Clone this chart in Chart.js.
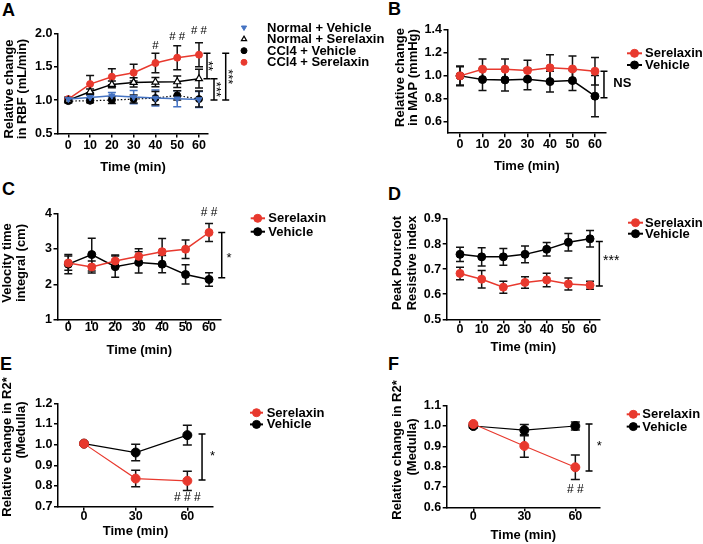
<!DOCTYPE html>
<html><head><meta charset="utf-8">
<script src="https://cdn.jsdelivr.net/npm/chart.js@4.4.1/dist/chart.umd.min.js"></script>
<style>
html,body{margin:0;padding:0;background:#fff;}
#wrap{position:relative;width:703px;height:544px;overflow:hidden;background:#fff;}
#wrap canvas{position:absolute;}
.pl{position:absolute;font-family:"Liberation Sans",Arial,sans-serif;font-weight:bold;font-size:18px;line-height:18px;color:#000;}
</style></head><body>
<div id="wrap">
<div class="pl" style="left:2px;top:1px">A</div>
<div class="pl" style="left:388px;top:0px">B</div>
<div class="pl" style="left:2px;top:180px">C</div>
<div class="pl" style="left:388px;top:185px">D</div>
<div class="pl" style="left:0px;top:355px">E</div>
<div class="pl" style="left:388px;top:355px">F</div>
</div>
<script>
// ---------------- DATA ----------------
const timeLong = [0, 10, 20, 30, 40, 50, 60];
const timeShort = [0, 30, 60];
const xTicksLong = [0, 10, 20, 30, 40, 50, 60];
const xTicksShort = [0, 30, 60];
const namesA = ['Normal + Vehicle', 'Normal + Serelaxin', 'CCl4 + Vehicle', 'CCl4 + Serelaxin'];
const names2 = ['Serelaxin', 'Vehicle'];

// Panel A: relative change in RBF
const normVehA    = [1.015, 1.04, 1.065, 1.045, 1.03, 1.02, 1.01];
const normVehErrA = [0.02, 0.03, 0.05, 0.10, 0.12, 0.12, 0.12];
const normSerA    = [1.0, 1.125, 1.235, 1.265, 1.27, 1.275, 1.32];
const normSerErrA = [0.02, 0.04, 0.05, 0.07, 0.07, 0.085, 0.14];
const cclVehA     = [0.985, 0.99, 1.0, 1.015, 1.03, 1.07, 1.015];
const cclVehErrA  = [0.03, 0.03, 0.05, 0.06, 0.10, 0.07, 0.12];
const cclSerA     = [1.015, 1.24, 1.35, 1.41, 1.555, 1.635, 1.68];
const cclSerErrA  = [0.03, 0.13, 0.12, 0.125, 0.145, 0.18, 0.18];
const yTicksA = [0.5, 1.0, 1.5, 2.0];
const bracketsA = [[1.32, 1.70], [1.0, 1.32], [1.0, 1.70]];
const bracketLabelsA = ['**', '***', '***'];
const hashTimesA = [40, 50, 60];
const hashLevelsA = [1.81, 1.95, 2.035];
const hashLabelsA = ['#', '# #', '# #'];

// Panel B: relative change in MAP
const serB    = [1.0, 1.058, 1.058, 1.047, 1.07, 1.06, 1.04];
const serErrB = [0.087, 0.09, 0.09, 0.09, 0.114, 0.114, 0.12];
const vehB    = [1.0, 0.968, 0.965, 0.971, 0.95, 0.959, 0.823];
const vehErrB = [0.08, 0.096, 0.096, 0.093, 0.09, 0.087, 0.18];
const yTicksB = [0.6, 0.8, 1.0, 1.2, 1.4];
const bracketsB = [[0.81, 1.04]];
const bracketLabelsB = ['NS'];

// Panel C: velocity time integral
const serC    = [2.6, 2.49, 2.66, 2.79, 2.92, 2.99, 3.46];
const serErrC = [0.2, 0.17, 0.17, 0.21, 0.37, 0.26, 0.25];
const vehC    = [2.57, 2.84, 2.5, 2.62, 2.57, 2.28, 2.14];
const vehErrC = [0.27, 0.46, 0.3, 0.3, 0.24, 0.27, 0.19];
const yTicksC = [1, 2, 3, 4];
const bracketsC = [[2.19, 3.46]];
const bracketLabelsC = ['*'];
const hashTimesC = [60];
const hashLevelsC = [4.03];
const hashLabelsC = ['# #'];

// Panel D: peak Pourcelot resistive index
const serD    = [0.683, 0.66, 0.628, 0.647, 0.657, 0.641, 0.636];
const serErrD = [0.025, 0.035, 0.024, 0.023, 0.027, 0.024, 0.016];
const vehD    = [0.759, 0.749, 0.749, 0.759, 0.779, 0.807, 0.821];
const vehErrD = [0.028, 0.036, 0.033, 0.033, 0.027, 0.035, 0.033];
const yTicksD = [0.5, 0.6, 0.7, 0.8, 0.9];
const bracketsD = [[0.633, 0.81]];
const bracketLabelsD = ['***'];

// Panel E: relative change in R2* (medulla)
const serE    = [1.005, 0.836, 0.825];
const serErrE = [0, 0.04, 0.047];
const vehE    = [1.005, 0.962, 1.046];
const vehErrE = [0, 0.04, 0.048];
const yTicksE = [0.7, 0.8, 0.9, 1.0, 1.1, 1.2];
const bracketsE = [[0.829, 1.052]];
const bracketLabelsE = ['*'];
const hashTimesE = [60];
const hashLevelsE = [0.742];
const hashLabelsE = ['# # #'];

// Panel F: relative change in R2* (medulla)
const serF    = [1.01, 0.902, 0.797];
const serErrF = [0.005, 0.056, 0.06];
const vehF    = [1.0, 0.98, 1.0];
const vehErrF = [0.01, 0.028, 0.02];
const yTicksF = [0.6, 0.7, 0.8, 0.9, 1.0, 1.1];
const bracketsF = [[0.779, 1.01]];
const bracketLabelsF = ['*'];
const hashTimesF = [60];
const hashLevelsF = [0.685];
const hashLabelsF = ['# #'];

// ---------------- STYLE / HELPERS ----------------
const FONT = '"Liberation Sans", Arial, Helvetica, sans-serif';
const RED = '#e8392e';
const BLUE = '#4573c2';
const wrap = document.getElementById('wrap');
Chart.defaults.font.family = FONT;

function series(label, times, vals, errs, st) {
  return Object.assign({
    label: label,
    data: times.map((t, i) => ({x: t, y: vals[i]})),
    errors: errs,
    tension: 0, fill: false, clip: false, borderWidth: 1.5,
    pointRadius: 4, pointHoverRadius: 4, pointBorderWidth: 1,
    pointStyle: 'circle', pointRotation: 0,
    errColor: '#111'
  }, st);
}
const redSt = {borderColor: RED, backgroundColor: RED, pointBackgroundColor: RED, pointBorderColor: RED};
const blkSt = {borderColor: '#000', backgroundColor: '#000', pointBackgroundColor: '#000', pointBorderColor: '#000'};

function drawMarker(ctx, opts, x, y) {
  if (Chart.helpers && Chart.helpers.drawPoint) {
    Chart.helpers.drawPoint(ctx, opts, x, y);
    return;
  }
  ctx.beginPath();
  ctx.arc(x, y, opts.radius, 0, Math.PI * 2);
  ctx.fill(); ctx.stroke();
}

function extrasPlugin(p) {
  const bx = p.box[0], by = p.box[1];
  return {
    id: 'extras' + p.id,
    beforeDatasetsDraw(chart) {
      const ctx = chart.ctx, xs = chart.scales.x, ys = chart.scales.y;
      const cap = p.cap;
      ctx.save();
      ctx.setLineDash([]);
      ctx.lineWidth = 1.5;
      chart.data.datasets.forEach(d => {
        ctx.strokeStyle = d.errColor;
        d.data.forEach((pt, i) => {
          const e = d.errors[i];
          if (!e) return;
          const x = xs.getPixelForValue(pt.x);
          const y1 = ys.getPixelForValue(pt.y + e), y2 = ys.getPixelForValue(pt.y - e);
          ctx.beginPath();
          ctx.moveTo(x, y1); ctx.lineTo(x, y2);
          ctx.moveTo(x - cap, y1); ctx.lineTo(x + cap, y1);
          ctx.moveTo(x - cap, y2); ctx.lineTo(x + cap, y2);
          ctx.stroke();
        });
      });
      ctx.restore();
    },
    afterDraw(chart) {
      const ctx = chart.ctx, xs = chart.scales.x, ys = chart.scales.y;
      ctx.save();
      ctx.setLineDash([]);
      // y-axis title (two lines, rotated)
      ctx.fillStyle = '#000';
      ctx.font = 'bold 13px ' + FONT;
      ctx.textAlign = 'center';
      ctx.textBaseline = 'middle';
      p.yTitle.forEach((t, i) => {
        ctx.save();
        ctx.translate(p.yTitleX[i] - bx, p.yTitleY[i] - by);
        ctx.rotate(-Math.PI / 2);
        ctx.fillText(t, 0, 0);
        ctx.restore();
      });
      // significance brackets
      const ref = xs.getPixelForValue(p.bracketRef);
      p.brackets.forEach((b, i) => {
        const x = ref + p.bracketDx[i];
        const y1 = ys.getPixelForValue(b[1]), y2 = ys.getPixelForValue(b[0]);
        ctx.strokeStyle = '#000'; ctx.lineWidth = 1.5;
        ctx.beginPath();
        ctx.moveTo(x, y1); ctx.lineTo(x, y2);
        ctx.moveTo(x - 3.5, y1); ctx.lineTo(x + 3.5, y1);
        ctx.moveTo(x - 3.5, y2); ctx.lineTo(x + 3.5, y2);
        ctx.stroke();
        const ym = (y1 + y2) / 2;
        ctx.fillStyle = '#000';
        ctx.font = p.bracketFont[i];
        ctx.textBaseline = 'middle';
        if (p.bracketRot) {
          ctx.save();
          ctx.translate(x + p.bracketTdx[i], ym);
          ctx.rotate(Math.PI / 2);
          ctx.textAlign = 'center';
          ctx.fillText(p.bracketLabels[i], 0, 0);
          ctx.restore();
        } else {
          ctx.textAlign = 'left';
          ctx.fillText(p.bracketLabels[i], x + p.bracketTdx[i], ym + p.bracketTdy[i]);
        }
      });
      // hash marks
      ctx.font = p.hashFont;
      ctx.textAlign = 'center';
      ctx.textBaseline = 'middle';
      p.hashTimes.forEach((t, i) => {
        ctx.fillText(p.hashLabels[i], xs.getPixelForValue(t), ys.getPixelForValue(p.hashLevels[i]));
      });
      // legend
      const L = p.legend;
      chart.data.datasets.forEach((d, i) => {
        const y = L.y0 + i * L.dy - by;
        if (L.line) {
          ctx.strokeStyle = d.borderColor; ctx.lineWidth = 2;
          ctx.beginPath(); ctx.moveTo(L.x0 - bx, y); ctx.lineTo(L.x1 - bx, y); ctx.stroke();
        }
        ctx.fillStyle = d.pointBackgroundColor;
        ctx.strokeStyle = d.pointBorderColor;
        ctx.lineWidth = d.pointBorderWidth;
        drawMarker(ctx, {pointStyle: d.pointStyle, rotation: d.pointRotation, radius: L.r, borderWidth: d.pointBorderWidth}, L.mx - bx, y);
        ctx.fillStyle = '#000';
        ctx.font = 'bold 13px ' + FONT;
        ctx.textAlign = 'left';
        ctx.textBaseline = 'middle';
        ctx.fillText(d.label, L.tx - bx, y + 0.5);
      });
      ctx.restore();
    }
  };
}

function mkPanel(p) {
  const [bx, by, bw, bh] = p.box;
  const [pl, pt, pr, pb] = p.plot;
  const lh = 13.65;
  const yw = pl - bx;
  const xh = p.xTitleY + lh / 2 - pb;
  const cv = document.createElement('canvas');
  cv.width = bw; cv.height = bh;
  cv.style.left = bx + 'px'; cv.style.top = by + 'px';
  cv.style.width = bw + 'px'; cv.style.height = bh + 'px';
  wrap.appendChild(cv);
  const tickFont = {family: FONT, size: 12.5, weight: 'bold', lineHeight: 1.2};
  const grid = {display: true, drawOnChartArea: false, drawTicks: true, tickLength: 4, color: '#000', lineWidth: 1.5};
  const border = {display: true, color: '#000', width: 1.5};
  new Chart(cv, {
    type: 'line',
    data: {datasets: p.datasets},
    options: {
      responsive: false, animation: false, devicePixelRatio: 1,
      events: [],
      layout: {padding: {left: 0, top: pt - by, right: bx + bw - pr, bottom: by + bh - pb - xh}},
      plugins: {legend: {display: false}, tooltip: {enabled: false}, title: {display: false}},
      scales: {
        x: {
          type: 'linear', min: p.xMin, max: p.xMax,
          afterBuildTicks: s => { s.ticks = p.xTicks.map(v => ({value: v})); },
          afterFit: s => { s.height = xh; },
          grid: grid, border: border,
          ticks: {font: tickFont, color: '#000', padding: p.xGap - 4 - 7.5, autoSkip: false, maxRotation: 0, minRotation: 0,
                  callback: v => String(v)},
          title: {display: true, text: 'Time (min)', color: '#000', padding: 0,
                  font: {family: FONT, size: 13, weight: 'bold', lineHeight: lh / 13}}
        },
        y: {
          type: 'linear', min: p.yMin, max: p.yMax,
          afterBuildTicks: s => { s.ticks = p.yTicks.map(v => ({value: v})); },
          afterFit: s => { s.width = yw; },
          grid: grid, border: border,
          ticks: {font: tickFont, color: '#000', padding: 1.5, autoSkip: false,
                  callback: v => Number(v).toFixed(p.yDec)},
          title: {display: false}
        }
      }
    },
    plugins: [extrasPlugin(p)]
  });
}

// ---------------- PANELS ----------------
mkPanel({
  id: 'A', box: [0, 0, 390, 180], plot: [58, 33.3, 208, 133.5],
  xMin: -4.73, xMax: 64.13, xTicks: xTicksLong, xGap: 11.6, xTitleY: 167,
  yMin: 0.5, yMax: 2.0, yTicks: yTicksA, yDec: 1,
  yTitle: ['Relative change', 'in RBF (mL/min)'], yTitleX: [9.5, 22.5], yTitleY: [89, 89],
  cap: 4,
  datasets: [
    series(namesA[0], timeLong, normVehA, normVehErrA, {borderColor: BLUE, backgroundColor: BLUE, pointBackgroundColor: BLUE, pointBorderColor: BLUE, pointStyle: 'triangle', pointRotation: 180, pointRadius: 3.5, errColor: BLUE}),
    series(namesA[1], timeLong, normSerA, normSerErrA, {borderColor: '#000', backgroundColor: '#fff', pointBackgroundColor: '#fff', pointBorderColor: '#000', pointStyle: 'triangle', pointRadius: 4, pointBorderWidth: 1.2}),
    series(namesA[2], timeLong, cclVehA, cclVehErrA, Object.assign({}, blkSt, {pointRadius: 3.5, borderDash: [1.5, 2], borderWidth: 1.2})),
    series(namesA[3], timeLong, cclSerA, cclSerErrA, Object.assign({}, redSt, {pointRadius: 3.5}))
  ],
  legend: {line: false, mx: 244, tx: 267, y0: 27.5, dy: 11.6, r: 3},
  brackets: bracketsA, bracketLabels: bracketLabelsA, bracketRef: 60, bracketDx: [8, 15, 26.7],
  bracketRot: true, bracketTdx: [1, 1.5, 2], bracketTdy: [0, 0, 0],
  bracketFont: ['13px ' + FONT, '13px ' + FONT, '13px ' + FONT],
  hashTimes: hashTimesA, hashLevels: hashLevelsA, hashLabels: hashLabelsA, hashFont: '11.5px ' + FONT
});

mkPanel({
  id: 'B', box: [390, 0, 313, 180], plot: [447.5, 30, 606, 133.2],
  xMin: -5.56, xMax: 64.9, xTicks: xTicksLong, xGap: 11.6, xTitleY: 166.7,
  yMin: 0.5, yMax: 1.4, yTicks: yTicksB, yDec: 1,
  yTitle: ['Relative change', 'in MAP (mmHg)'], yTitleX: [400, 413.5], yTitleY: [77.5, 77.5],
  cap: 4,
  datasets: [
    series(names2[0], timeLong, serB, serErrB, Object.assign({}, redSt)),
    series(names2[1], timeLong, vehB, vehErrB, Object.assign({}, blkSt))
  ],
  legend: {line: true, x0: 627, x1: 642, mx: 634.5, tx: 645, y0: 53.3, dy: 11.7, r: 4},
  brackets: bracketsB, bracketLabels: bracketLabelsB, bracketRef: 60, bracketDx: [9],
  bracketRot: false, bracketTdx: [9.3], bracketTdy: [-1], bracketFont: ['bold 13px ' + FONT],
  hashTimes: [], hashLevels: [], hashLabels: [], hashFont: '12px ' + FONT
});

mkPanel({
  id: 'C', box: [0, 180, 390, 180], plot: [57.5, 213.3, 221, 320],
  xMin: -4.6, xMax: 65.1, xTicks: xTicksLong, xGap: 7.5, xTitleY: 350,
  yMin: 1, yMax: 4, yTicks: yTicksC, yDec: 0,
  yTitle: ['Velocity time', 'integral (cm)'], yTitleX: [7.5, 21], yTitleY: [263, 263],
  cap: 4,
  datasets: [
    series(names2[0], timeLong, serC, serErrC, Object.assign({}, redSt)),
    series(names2[1], timeLong, vehC, vehErrC, Object.assign({}, blkSt))
  ],
  legend: {line: true, x0: 250.7, x1: 265, mx: 257.7, tx: 268.3, y0: 218.3, dy: 13.4, r: 4},
  brackets: bracketsC, bracketLabels: bracketLabelsC, bracketRef: 60, bracketDx: [12.7],
  bracketRot: false, bracketTdx: [4.8], bracketTdy: [3], bracketFont: ['13px ' + FONT],
  hashTimes: hashTimesC, hashLevels: hashLevelsC, hashLabels: hashLabelsC, hashFont: '12px ' + FONT
});

mkPanel({
  id: 'D', box: [390, 180, 313, 180], plot: [446.7, 219, 600, 319.3],
  xMin: -6.14, xMax: 64.6, xTicks: xTicksLong, xGap: 10.7, xTitleY: 347.7,
  yMin: 0.5, yMax: 0.9, yTicks: yTicksD, yDec: 1,
  yTitle: ['Peak Pourcelot', 'Resistive index'], yTitleX: [397.5, 412], yTitleY: [263, 263],
  cap: 4,
  datasets: [
    series(names2[0], timeLong, serD, serErrD, Object.assign({}, redSt)),
    series(names2[1], timeLong, vehD, vehErrD, Object.assign({}, blkSt))
  ],
  legend: {line: true, x0: 628, x1: 643, mx: 635.5, tx: 645, y0: 222.7, dy: 11, r: 4},
  brackets: bracketsD, bracketLabels: bracketLabelsD, bracketRef: 60, bracketDx: [9.3],
  bracketRot: false, bracketTdx: [3.7], bracketTdy: [-3], bracketFont: ['14px ' + FONT],
  hashTimes: [], hashLevels: [], hashLabels: [], hashFont: '12px ' + FONT
});

mkPanel({
  id: 'E', box: [0, 360, 390, 184], plot: [58, 403.3, 213, 506.7],
  xMin: -15.1, xMax: 74.9, xTicks: xTicksShort, xGap: 10, xTitleY: 531.7,
  yMin: 0.7, yMax: 1.2, yTicks: yTicksE, yDec: 1,
  yTitle: ['Relative change in R2*', '(Medulla)'], yTitleX: [7.5, 21], yTitleY: [447, 430],
  cap: 4.5,
  datasets: [
    series(names2[0], timeShort, serE, serErrE, Object.assign({}, redSt, {borderWidth: 1.2, pointRadius: 4.5})),
    series(names2[1], timeShort, vehE, vehErrE, Object.assign({}, blkSt, {borderWidth: 1.2, pointRadius: 4.5}))
  ],
  legend: {line: true, x0: 250, x1: 263, mx: 256.5, tx: 266.7, y0: 412.7, dy: 11.7, r: 4},
  brackets: bracketsE, bracketLabels: bracketLabelsE, bracketRef: 60, bracketDx: [14.7],
  bracketRot: false, bracketTdx: [8], bracketTdy: [-0.7], bracketFont: ['13px ' + FONT],
  hashTimes: hashTimesE, hashLevels: hashLevelsE, hashLabels: hashLabelsE, hashFont: '12px ' + FONT
});

mkPanel({
  id: 'F', box: [390, 360, 313, 184], plot: [446.7, 405.7, 600, 507.3],
  xMin: -15.65, xMax: 74.5, xTicks: xTicksShort, xGap: 9.5, xTitleY: 535,
  yMin: 0.6, yMax: 1.1, yTicks: yTicksF, yDec: 1,
  yTitle: ['Relative change in R2*', '(Medulla)'], yTitleX: [397.5, 412], yTitleY: [450, 447],
  cap: 4.5,
  datasets: [
    series(names2[0], timeShort, serF, serErrF, Object.assign({}, redSt, {borderWidth: 1.2, pointRadius: 4.5})),
    series(names2[1], timeShort, vehF, vehErrF, Object.assign({}, blkSt, {borderWidth: 1.2, pointRadius: 4.5}))
  ],
  legend: {line: true, x0: 626.7, x1: 640, mx: 633.3, tx: 642.3, y0: 414.3, dy: 12.3, r: 4},
  brackets: bracketsF, bracketLabels: bracketLabelsF, bracketRef: 60, bracketDx: [13.7],
  bracketRot: false, bracketTdx: [7.7], bracketTdy: [-1], bracketFont: ['13px ' + FONT],
  hashTimes: hashTimesF, hashLevels: hashLevelsF, hashLabels: hashLabelsF, hashFont: '12px ' + FONT
});
</script>
</body></html>
